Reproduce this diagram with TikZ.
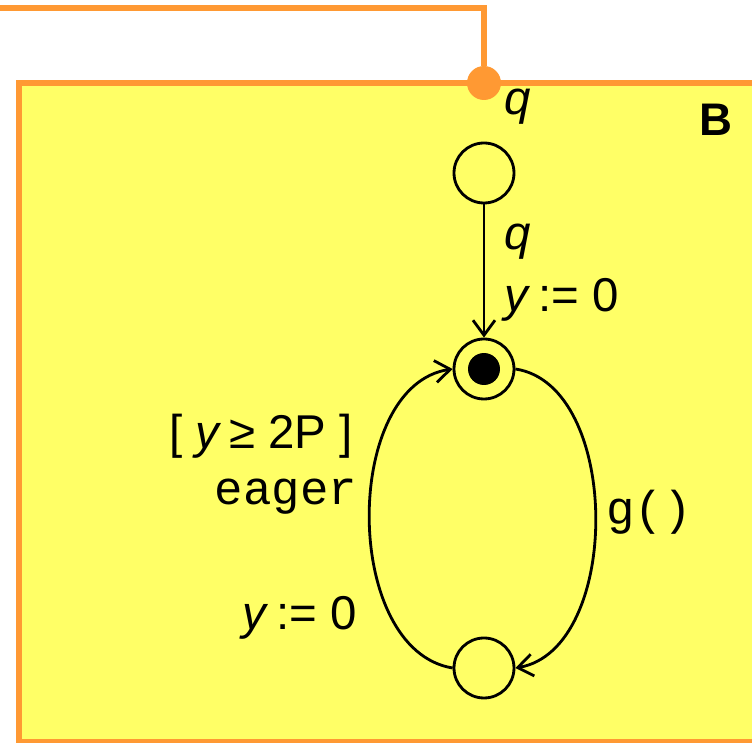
\documentclass[tikz,border=0pt]{standalone}
\usepackage{fontspec}
\setmainfont{Liberation Sans}
\setmonofont{Liberation Mono}
\usetikzlibrary{arrows.meta,positioning}
\definecolor{boxfill}{HTML}{FFFF66}
\definecolor{edge}{HTML}{FF9933}

\begin{document}
\begin{tikzpicture}[x=0.02cm,y=-0.02cm,
  lbl/.style={font=\fontsize{27}{32}\selectfont,inner sep=0pt},
  code/.style={font=\fontsize{27}{32}\selectfont\ttfamily,inner sep=0pt},
  st/.style={draw,circle,line width=1.6pt,minimum size=1.2cm,inner sep=0pt},
  arr/.style={-{Straight Barb[length=3mm,width=4.4mm]},line width=1.6pt}]
\useasboundingbox (0,0) rectangle (752,743);
% component box and its port
\draw[line width=3.4pt,draw=edge,fill=boxfill] (19,83) rectangle (790,742);
\coordinate (feed) at (-10,8);
\node[circle,fill=edge,minimum size=0.68cm,inner sep=0pt] (port) at (484,83) {};
\draw[edge,line width=3pt] (feed) -| (port);
\node[lbl,font=\fontsize{26}{30}\selectfont\bfseries] (name) at (716,120) {B};
\node[lbl] (lport) at (518,107) {\textit{q}};
% locations
\node[st] (s0) at (484,173) {};
\node[st] (init) at (484,369) {};
\node[circle,fill,minimum size=0.64cm,inner sep=0pt] (tok) at (init) {};
\node[st] (s1) at (484,668) {};
% transitions
\draw[arr] (s0) -- (init);
\draw[arr] (s1.west) .. controls (342,650) and (342,385) .. (init.west);
\draw[arr] (init.east) .. controls (622,385) and (622,650) .. (s1.east);
\node[lbl] (lsync) at (518,242) {\textit{q}};
\node[lbl] (lreset) at (562,300) {\textit{y}\,:= 0};
\node[lbl] (lguard) at (261,436) {[ \textit{y}\,≥ 2P ]};
\node[code] (leager) at (286,497) {eager};
\node[lbl] (lreset2) at (300,618) {\textit{y}\,:= 0};
\node[code] (lg) at (649,512) {g()};
\end{tikzpicture}
\end{document}
